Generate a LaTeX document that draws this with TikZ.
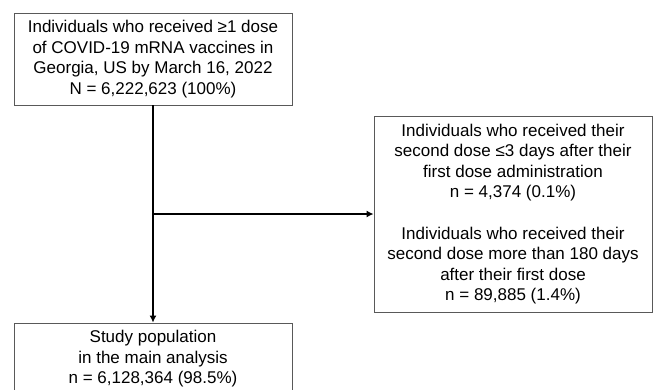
\documentclass[tikz,border=0pt]{standalone}
\usepackage{fontspec}
\setmainfont{Liberation Sans}
\usetikzlibrary{arrows.meta}
\begin{document}
\begin{tikzpicture}[x=1pt, y=-1pt]
\tikzset{ >={Latex[length=7pt, width=7pt]},
  box/.style={draw=black!65, line width=0.8pt, align=center, inner sep=0pt,
    font=\fontsize{17}{20.5}\selectfont},
  flow/.style={->, line width=2pt},
}

\useasboundingbox [fill=white] (0,0) rectangle (654,389);

\node [box, minimum width=278pt, minimum height=92pt] (eligible) at (153,59)
  {Individuals who received ≥1 dose\\ of COVID-19 mRNA vaccines in\\ Georgia, US by March 16, 2022\\ N = 6,222,623 (100\%)};
\node [box, minimum width=278pt, minimum height=196pt] (excluded) at (513,214)
  {Individuals who received their\\ second dose ≤3 days after their\\ first dose administration\\ n = 4,374 (0.1\%)\\[21pt]
   Individuals who received their\\ second dose more than 180 days\\ after their first dose\\ n = 89,885 (1.4\%)};
\node [box, minimum width=278pt, minimum height=72pt] (study) at (153,359)
  {Study population\\ in the main analysis\\ n = 6,128,364 (98.5\%)};

\coordinate (branch) at (eligible.south |- excluded.west);

\draw [flow] (eligible) -- (study);
\draw [flow] (branch) -- (excluded);

\end{tikzpicture}
\end{document}
